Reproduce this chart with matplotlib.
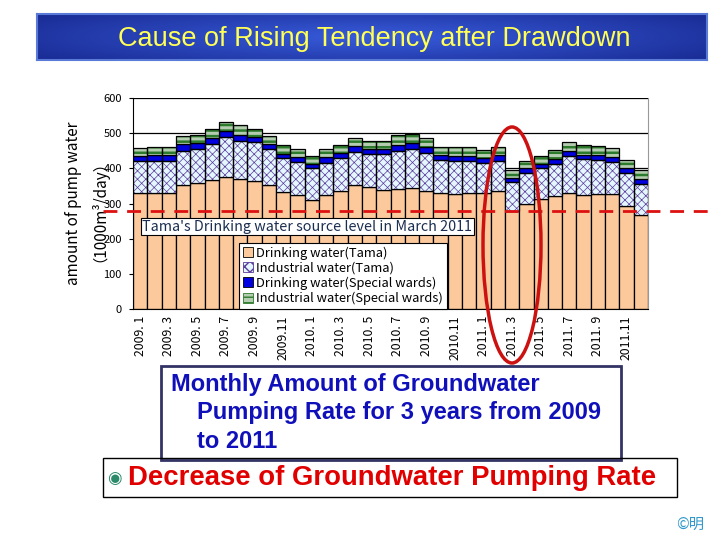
import numpy as np
import matplotlib
matplotlib.use('Agg')
from matplotlib import pyplot as plt
from matplotlib.patches import Ellipse, Rectangle
import matplotlib.transforms as mtrans

plt.rcParams['font.family'] = ['Noto Sans CJK JP', 'DejaVu Sans']

# data (1000 m3/day), Jan 2009 - Dec 2011
months = ['2009. 1', '2009. 2', '2009. 3', '2009. 4', '2009. 5', '2009. 6',
          '2009. 7', '2009. 8', '2009. 9', '2009.10', '2009.11', '2009.12',
          '2010. 1', '2010. 2', '2010. 3', '2010. 4', '2010. 5', '2010. 6',
          '2010. 7', '2010. 8', '2010. 9', '2010.10', '2010.11', '2010.12',
          '2011. 1', '2011. 2', '2011. 3', '2011. 4', '2011. 5', '2011. 6',
          '2011. 7', '2011. 8', '2011. 9', '2011.10', '2011.11', '2011.12']
drink_tama = [330, 329, 329, 354, 358, 367, 375, 369, 364, 353, 332, 324,
              310, 325, 336, 353, 347, 338, 341, 345, 336, 330, 327, 331,
              329, 336, 280, 298, 313, 320, 330, 324, 327, 327, 294, 266]
ind_tama = [92, 93, 93, 96, 98, 103, 114, 110, 110, 101, 97, 93,
            90, 90, 93, 94, 93, 104, 109, 110, 107, 93, 94, 90,
            87, 86, 81, 90, 87, 93, 105, 102, 98, 92, 92, 89]
drink_ward = [14, 16, 16, 19, 16, 15, 16, 15, 14, 14, 13, 14,
              13, 16, 14, 16, 14, 13, 15, 16, 18, 15, 15, 15,
              13, 15, 12, 12, 12, 14, 14, 12, 13, 14, 14, 14]
ind_ward = [21, 24, 23, 23, 22, 26, 26, 30, 25, 24, 23, 23,
            23, 23, 22, 22, 23, 24, 29, 26, 24, 24, 24, 24,
            23, 24, 23, 21, 22, 25, 25, 28, 25, 26, 24, 25]
level_2011 = 280
labels = ['Drinking water(Tama)', 'Industrial water(Tama)',
          'Drinking water(Special wards)', 'Industrial water(Special wards)']

fig = plt.figure(figsize=(7.2, 5.4), dpi=100)
W, H = 720.0, 540.0

def fax(x0, y0, x1, y1):
    return [x0 / W, 1 - y1 / H, (x1 - x0) / W, (y1 - y0) / H]

# title banner
tax = fig.add_axes(fax(37, 14, 707, 60))
gx = np.linspace(-1, 1, 300)
gy = np.linspace(-1, 1, 40)
GX, GY = np.meshgrid(gx, gy)
r = np.clip(np.sqrt((GX * 0.8) ** 2 + (GY * 0.6) ** 2), 0, 1)
c0 = np.array([0.22, 0.36, 0.86])
c1 = np.array([0.10, 0.17, 0.58])
img = c0[None, None, :] * (1 - r[..., None]) + c1[None, None, :] * r[..., None]
tax.imshow(img, aspect='auto', extent=(0, 1, 0, 1))
tax.set_xticks([])
tax.set_yticks([])
for s in tax.spines.values():
    s.set_color('#5a7ad8')
    s.set_linewidth(1.5)
tax.text(0.503, 0.45, 'Cause of Rising Tendency after Drawdown', color='#ffff55',
         fontsize=19.5, ha='center', va='center', family='Liberation Sans')

# chart
ax = fig.add_axes(fax(133, 98, 648, 309))
x = np.arange(len(months))
d1 = np.array(drink_tama)
d2 = np.array(ind_tama)
d3 = np.array(drink_ward)
d4 = np.array(ind_ward)

ax.bar(x, d1, width=1.0, color='#fcc99c', edgecolor='black', linewidth=0.9, zorder=2)
with plt.rc_context({'hatch.linewidth': 0.5}):
    ax.bar(x, d2, bottom=d1, width=1.0, color='#e4f6ff', edgecolor='#5a3a9a',
           hatch='xxxx', linewidth=0, zorder=2)
ax.bar(x, d2, bottom=d1, width=1.0, fill=False, edgecolor='black', linewidth=0.9, zorder=3)
ax.bar(x, d3, bottom=d1 + d2, width=1.0, color='#0000e0', edgecolor='black',
       linewidth=0.9, zorder=2)
with plt.rc_context({'hatch.linewidth': 1.8}):
    ax.bar(x, d4, bottom=d1 + d2 + d3, width=1.0, color='#b4ccb0', edgecolor='#2c7a2c',
           hatch='---', linewidth=0, zorder=2)
ax.bar(x, d4, bottom=d1 + d2 + d3, width=1.0, fill=False, edgecolor='black',
       linewidth=0.9, zorder=3)

ax.set_xlim(-0.5, len(months) - 0.5)
ax.set_ylim(0, 600)
ax.set_yticks(np.arange(0, 601, 100))
ax.yaxis.grid(True, color='black', linewidth=0.9, zorder=0)
ax.set_axisbelow(True)
ax.tick_params(axis='y', labelsize=8, length=3, pad=5)
ax.set_xticks(x[::2])
ax.set_xticklabels(months[::2], rotation=90, fontsize=8.8)
ax.tick_params(axis='x', length=0, pad=5)
ax.spines['right'].set_color('#999999')
ax.spines['top'].set_visible(False)

ax.set_ylabel('amount of pump water\n（1000m³/day）', fontsize=11, labelpad=2,
              linespacing=1.05)

# red dashed reference line
tr = mtrans.blended_transform_factory(ax.transAxes, ax.transData)
ax.plot([-0.058, 1.13], [level_2011, level_2011], transform=tr, color='#dd1111',
        linewidth=2, dashes=(5, 3.5), clip_on=False, zorder=5)
ax.text(0.018, 0.39, "Tama's Drinking water source level in March 2011",
        transform=ax.transAxes, fontsize=10.3, color='#1a2e50', va='center',
        bbox=dict(boxstyle='square,pad=0.1', facecolor='white', edgecolor='black',
                  linewidth=0.8), zorder=6)

handles = [Rectangle((0, 0), 1, 1, facecolor='#fcc99c', edgecolor='black', linewidth=0.6),
           Rectangle((0, 0), 1, 1, facecolor='#e4f6ff', edgecolor='#5a3a9a', hatch='xxx', linewidth=0.6),
           Rectangle((0, 0), 1, 1, facecolor='#0000e0', edgecolor='black', linewidth=0.6),
           Rectangle((0, 0), 1, 1, facecolor='#b4ccb0', edgecolor='#2c7a2c', hatch='---', linewidth=0.6)]
leg = ax.legend(handles, labels, loc='lower left', bbox_to_anchor=(0.206, 0.0),
                borderaxespad=0, fontsize=9.3, handlelength=0.8, handleheight=0.8,
                handletextpad=0.2, labelspacing=0.15, borderpad=0.3,
                fancybox=False, framealpha=1, edgecolor='black')
leg.get_frame().set_linewidth(0.8)
leg.set_zorder(6)

# red ellipse around March 2011
fig.patches.append(Ellipse((512 / W, 1 - 245 / H), 58 / W, 236 / H, fill=False,
                           edgecolor='#cc1111', linewidth=2.5,
                           transform=fig.transFigure, zorder=10))

# caption boxes
fig.patches.append(Rectangle((161 / W, 1 - 460 / H), 460 / W, 94 / H, fill=False,
                             edgecolor='#333366', linewidth=2, transform=fig.transFigure))
fig.text(171 / W, 1 - 385 / H, 'Monthly Amount of Groundwater', color='#1010bb',
         fontsize=17, fontweight='bold', va='center', family='Liberation Sans')
fig.text(197 / W, 1 - 413 / H, 'Pumping Rate for 3 years from 2009', color='#1010bb',
         fontsize=17, fontweight='bold', va='center', family='Liberation Sans')
fig.text(197 / W, 1 - 441 / H, 'to 2011', color='#1010bb',
         fontsize=17, fontweight='bold', va='center', family='Liberation Sans')

fig.patches.append(Rectangle((103 / W, 1 - 497 / H), 574 / W, 39 / H, fill=False,
                             edgecolor='black', linewidth=1, transform=fig.transFigure))
fig.text(114 / W, 1 - 478 / H, '◉', color='#2a8a6a', fontsize=12, va='center', ha='center',
         family='DejaVu Sans')
fig.text(128 / W, 1 - 478 / H, 'Decrease of Groundwater Pumping Rate', color='#e00000',
         fontsize=19.8, fontweight='bold', va='center', family='Liberation Sans')
fig.text(690 / W, 1 - 524 / H, '©明', color='#3399cc', fontsize=11, va='center', ha='center')

plt.savefig('out.png', dpi=100)
